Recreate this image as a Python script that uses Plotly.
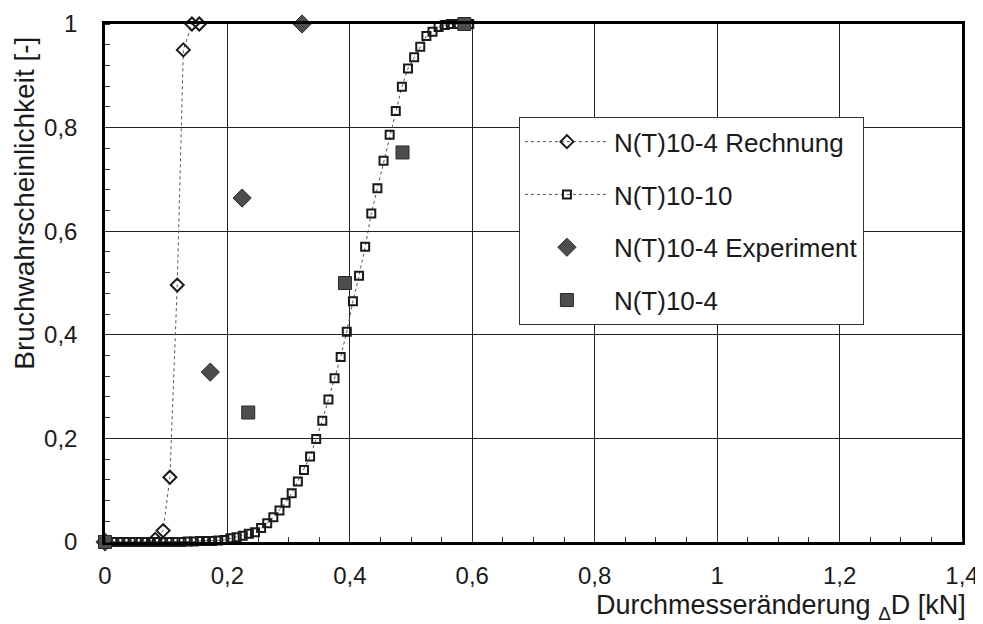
import plotly.graph_objects as go

# values
X_RECHNUNG = [0.0, 0.082, 0.095, 0.106, 0.118, 0.128, 0.142, 0.154]
Y_RECHNUNG = [0.0, 0.005, 0.022, 0.125, 0.496, 0.950, 1.0, 1.0]

X_NT1010 = [
    0.005, 0.015, 0.025, 0.035, 0.045, 0.055, 0.065, 0.075, 0.085, 0.095,
    0.105, 0.115, 0.125, 0.135, 0.145, 0.155, 0.165, 0.175, 0.185, 0.195,
    0.205, 0.215, 0.225, 0.235, 0.245, 0.255, 0.265, 0.275, 0.285, 0.295,
    0.305, 0.315, 0.325, 0.335, 0.345, 0.355, 0.365, 0.375, 0.385, 0.395,
    0.405, 0.415, 0.425, 0.435, 0.445, 0.455, 0.465, 0.475, 0.485, 0.495,
    0.505, 0.515, 0.525, 0.535, 0.545, 0.555, 0.565, 0.575, 0.585, 0.595,
]
Y_NT1010 = [
    0.0, 0.0, 0.0, 0.0, 0.0, 0.0, 0.0, 0.0, 0.0, 0.0,
    0.0, 0.0, 0.0, 0.001, 0.001, 0.002, 0.002, 0.002, 0.003, 0.004,
    0.007, 0.009, 0.012, 0.016, 0.019, 0.027, 0.036, 0.048, 0.061, 0.076,
    0.094, 0.117, 0.139, 0.165, 0.199, 0.234, 0.275, 0.316, 0.357, 0.406,
    0.465, 0.514, 0.570, 0.634, 0.683, 0.736, 0.786, 0.832, 0.879, 0.914,
    0.936, 0.956, 0.977, 0.985, 0.994, 0.998, 1.0, 1.0, 1.0, 1.0,
]

X_EXPERIMENT = [0.0, 0.172, 0.224, 0.322]
Y_EXPERIMENT = [0.0, 0.328, 0.664, 1.0]

X_NT104 = [0.0, 0.234, 0.392, 0.486, 0.587]
Y_NT104 = [0.0, 0.250, 0.500, 0.752, 1.0]

X_TICKS = [0, 0.2, 0.4, 0.6, 0.8, 1.0, 1.2, 1.4]
Y_TICKS = [0, 0.2, 0.4, 0.6, 0.8, 1.0]

FONT = "Liberation Sans, Arial, sans-serif"
INK = "#1a1a1a"
FILL = "#4d4d4d"

fig = go.Figure()
fig.add_trace(go.Scatter(
    x=X_RECHNUNG, y=Y_RECHNUNG, name="N(T)10-4 Rechnung", legendgroup="a",
    mode="lines+markers", cliponaxis=False,
    line=dict(color="#555555", width=1, dash="3px,3px"),
    marker=dict(symbol="diamond-open", size=10, color=INK, line=dict(width=2)),
))
fig.add_trace(go.Scatter(
    x=X_NT1010, y=Y_NT1010, name="N(T)10-10", legendgroup="b",
    mode="lines+markers", cliponaxis=False,
    line=dict(color="#555555", width=1, dash="3px,3px"),
    marker=dict(symbol="square-open", size=8, color=INK, line=dict(width=2)),
))
fig.add_trace(go.Scatter(
    x=X_EXPERIMENT, y=Y_EXPERIMENT, name="N(T)10-4 Experiment", legendgroup="c",
    mode="markers", cliponaxis=False,
    marker=dict(symbol="diamond", size=14, color=FILL, line=dict(color="#2a2a2a", width=1)),
))
fig.add_trace(go.Scatter(
    x=X_NT104, y=Y_NT104, name="N(T)10-4", legendgroup="d",
    mode="markers", cliponaxis=False,
    marker=dict(symbol="square", size=13, color=FILL, line=dict(color="#2a2a2a", width=1)),
))

axis_common = dict(
    showline=True, linecolor="black", linewidth=2.5, mirror=True,
    showgrid=True, gridcolor="#222222", gridwidth=1,
    zeroline=False, ticks="", automargin=False,
    tickfont=dict(size=24, color=INK, family=FONT),
)
fig.update_xaxes(
    range=[0, 1.4], tickvals=X_TICKS, ticklabelstandoff=10,
    minor=dict(dtick=0.05, tick0=0, ticks="inside", ticklen=5, tickcolor="#333", showgrid=False),
    **axis_common,
)
fig.update_yaxes(
    range=[0, 1], tickvals=Y_TICKS, ticklabelstandoff=20,
    minor=dict(dtick=0.04, tick0=0, ticks="inside", ticklen=5, tickcolor="#333", showgrid=False),
    **axis_common,
)

fig.add_annotation(
    text="Bruchwahrscheinlichkeit [-]", textangle=-90, showarrow=False,
    xref="paper", yref="paper", x=-0.094, y=0.654, xanchor="center", yanchor="middle",
    font=dict(size=28, color=INK, family=FONT),
)
fig.add_annotation(
    text="Durchmesseränderung <sub>Δ</sub>D [kN]", showarrow=False,
    xref="paper", yref="paper", x=1.007, y=-0.125, xanchor="right", yanchor="middle",
    font=dict(size=27, color=INK, family=FONT),
)

# the page body adds an 8px margin at top/left, so the figure is 8px smaller than the window
fig.update_layout(
    width=975, height=616,
    margin=dict(l=97, r=21, t=16, b=82),
    separators=",.",
    plot_bgcolor="white", paper_bgcolor="white",
    font=dict(family=FONT, color=INK),
    legend=dict(
        x=0.483, y=0.82, xanchor="left", yanchor="top",
        bgcolor="white", bordercolor="#333333", borderwidth=1,
        font=dict(size=26, color=INK, family=FONT),
        tracegroupgap=16, itemsizing="trace", itemwidth=84,
    ),
)

fig.write_html("out.html")
